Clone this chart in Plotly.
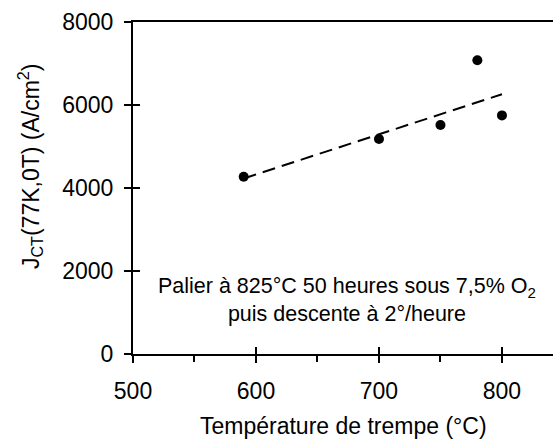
import plotly.graph_objects as go

# Data
temp_c = [590, 700, 750, 780, 800]
jct = [4270, 5180, 5520, 7080, 5750]
trend_x = [590, 800]
trend_y = [4230, 6260]

x_ticks = [500, 600, 700, 800]
y_ticks = [0, 2000, 4000, 6000, 8000]

FONT = "Liberation Sans, Arial, sans-serif"
fs = 23

fig = go.Figure()
fig.add_trace(go.Scatter(x=trend_x, y=trend_y, mode="lines",
                         line=dict(color="black", width=2, dash="13px,7px"),
                         showlegend=False, hoverinfo="skip"))
fig.add_trace(go.Scatter(x=temp_c, y=jct, mode="markers",
                         marker=dict(color="black", size=10),
                         showlegend=False))
# invisible trace to activate overlay axes for inside ticks
fig.add_trace(go.Scatter(x=[500], y=[0], xaxis="x2", yaxis="y2", mode="markers",
                         marker=dict(opacity=0), showlegend=False, hoverinfo="skip"))

xr = [500, 841.5]
yr = [0, 8000]

fig.update_layout(
    width=553, height=444,
    margin=dict(l=133, r=0, t=22, b=90),
    paper_bgcolor="white", plot_bgcolor="white",
    font=dict(family=FONT, size=fs, color="black"),
    xaxis=dict(range=xr, tickvals=x_ticks, ticks="outside", ticklen=7, tickwidth=2,
               tickcolor="black", showline=True, linewidth=2, linecolor="black",
               mirror=True, showgrid=False, zeroline=False,
               minor=dict(tickvals=[550, 650, 750], ticks="outside", ticklen=6,
                          tickwidth=2, tickcolor="black"),
               tickfont=dict(size=fs), ticklabelstandoff=8),
    yaxis=dict(range=yr, tickvals=y_ticks, ticks="outside", ticklen=7, tickwidth=2,
               tickcolor="black", showline=True, linewidth=2, linecolor="black",
               showgrid=False, zeroline=False, tickfont=dict(size=fs),
               ticklabelstandoff=6),
    xaxis2=dict(range=xr, overlaying="x", tickvals=x_ticks, ticks="inside", ticklen=7,
                tickwidth=2, tickcolor="black", showticklabels=False, showgrid=False,
                zeroline=False, showline=False),
    yaxis2=dict(range=yr, overlaying="y", tickvals=y_ticks, ticks="inside", ticklen=7,
                tickwidth=2, tickcolor="black", showticklabels=False, showgrid=False,
                zeroline=False, showline=False),
    annotations=[
        dict(text="J<sub>CT</sub>(77K,0T) (A/cm<sup>2</sup>)", textangle=-90,
             xref="paper", yref="paper", x=(30 - 133) / 420, y=(354 - 166) / 332,
             showarrow=False, font=dict(size=fs), xanchor="center", yanchor="middle"),
        dict(text="Température de trempe (°C)", xref="paper", yref="paper",
             x=(343 - 133) / 420, y=(354 - 426) / 332, showarrow=False, font=dict(size=fs),
             xanchor="center", yanchor="middle"),
        dict(text="Palier à 825°C 50 heures sous 7,5% O<sub>2</sub><br>puis descente à 2°/heure",
             xref="paper", yref="paper", x=(347 - 133) / 420, y=(354 - 300) / 332,
             showarrow=False, font=dict(size=21.5), xanchor="center", yanchor="middle",
             align="center"),
    ],
)

fig.write_html("out.html", config={"displayModeBar": False},
               post_script="document.body.style.margin='0';document.body.style.overflow='hidden';")
